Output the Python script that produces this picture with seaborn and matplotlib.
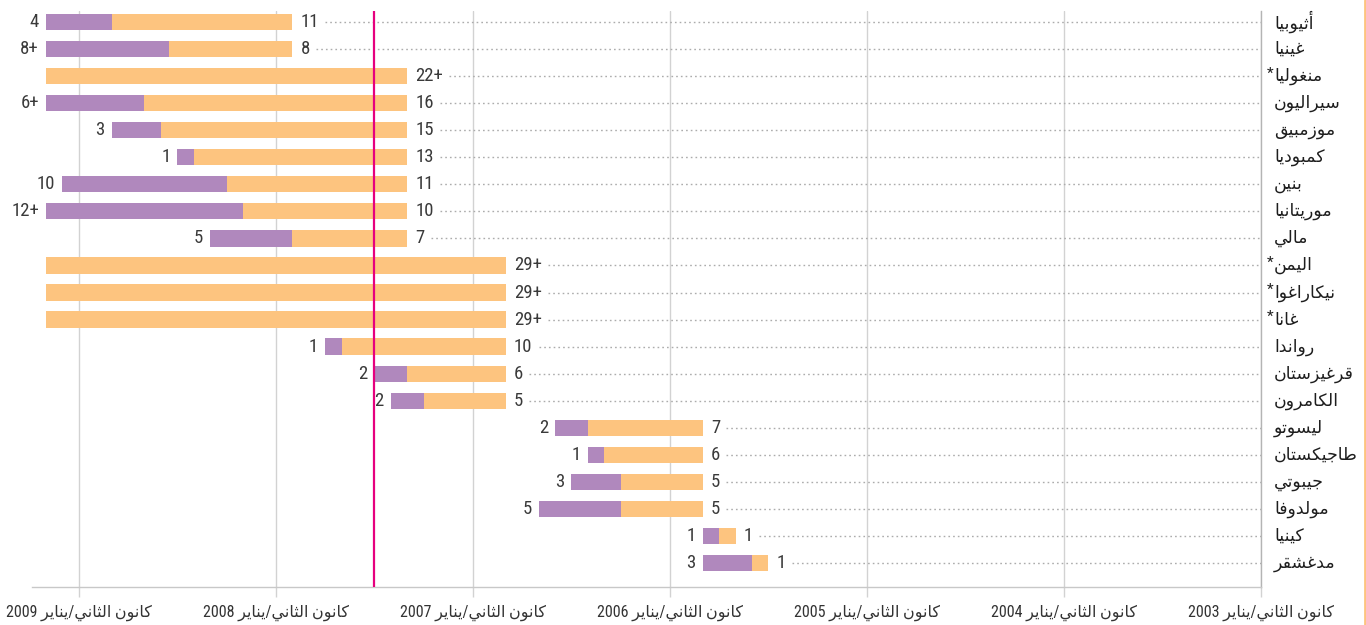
import re
import numpy as np
import matplotlib
matplotlib.use("Agg")
import matplotlib.pyplot as plt
import seaborn as sns
from matplotlib import font_manager as fm
from matplotlib.lines import Line2D

# ---------------- data ----------------
countries = ["أثيوبيا", "غينيا", "منغوليا*", "سيراليون", "موزمبيق", "كمبوديا", "بنين",
             "موريتانيا", "مالي", "اليمن*", "نيكاراغوا*", "غانا*", "رواندا", "قرغيزستان",
             "الكامرون", "ليسوتو", "طاجيكستان", "جيبوتي", "مولدوفا", "كينيا", "مدغشقر"]
start = ["2007-12", "2007-12", "2007-05", "2007-05", "2007-05", "2007-05", "2007-05",
         "2007-05", "2007-05", "2006-11", "2006-11", "2006-11", "2006-11", "2006-11",
         "2006-11", "2005-11", "2005-11", "2005-11", "2005-11", "2005-09", "2005-07"]
orange_months = [11, 7.5, 22, 16, 15, 13, 11, 10, 7, 28, 28, 28, 10, 6, 5, 7, 6, 5, 5, 1, 1]
purple_months = [4, 7.5, 0, 6, 3, 1, 10, 12, 5, 0, 0, 0, 1, 2, 2, 2, 1, 3, 5, 1, 3]
orange_labels = ["11", "8", "22+", "16", "15", "13", "11", "10", "7", "29+", "29+", "29+",
                 "10", "6", "5", "7", "6", "5", "5", "1", "1"]
purple_labels = ["4", "8+", "", "6+", "3", "1", "10", "12+", "5", "", "", "",
                 "1", "2", "2", "2", "1", "3", "5", "1", "3"]
years = [2009, 2008, 2007, 2006, 2005, 2004, 2003]
tick_word = "كانون الثاني/يناير"
marker_date = "2007-07"

ORANGE = "#FDC47F"
PURPLE = "#B088BD"
MAGENTA = "#E6007E"

# ------------- Arabic shaping (visual order for matplotlib) -------------
_DUAL = {'ئ': 0xFE89, 'ب': 0xFE8F, 'ت': 0xFE95, 'ث': 0xFE99, 'ج': 0xFE9D, 'ح': 0xFEA1,
         'خ': 0xFEA5, 'س': 0xFEB1, 'ش': 0xFEB5, 'ص': 0xFEB9, 'ض': 0xFEBD, 'ط': 0xFEC1,
         'ظ': 0xFEC5, 'ع': 0xFEC9, 'غ': 0xFECD, 'ف': 0xFED1, 'ق': 0xFED5, 'ك': 0xFED9,
         'ل': 0xFEDD, 'م': 0xFEE1, 'ن': 0xFEE5, 'ه': 0xFEE9, 'ي': 0xFEF1}
_RIGHT = {'آ': 0xFE81, 'أ': 0xFE83, 'ؤ': 0xFE85, 'إ': 0xFE87, 'ا': 0xFE8D, 'ة': 0xFE93,
          'د': 0xFEA9, 'ذ': 0xFEAB, 'ر': 0xFEAD, 'ز': 0xFEAF, 'و': 0xFEED, 'ى': 0xFEEF}
_LAMALEF = {'آ': 0xFEF5, 'أ': 0xFEF7, 'إ': 0xFEF9, 'ا': 0xFEFB}


def _joins(c):
    return c in _DUAL or c in _RIGHT


def shape(s):
    out = []
    i, n = 0, len(s)
    while i < n:
        c = s[i]
        cp = i > 0 and s[i - 1] in _DUAL and _joins(c)
        if c == 'ل' and i + 1 < n and s[i + 1] in _LAMALEF:
            out.append(chr(_LAMALEF[s[i + 1]] + (1 if cp else 0)))
            i += 2
            continue
        if c in _DUAL:
            cn = i + 1 < n and _joins(s[i + 1])
            off = {(False, False): 0, (True, False): 1, (False, True): 2, (True, True): 3}[(cp, cn)]
            out.append(chr(_DUAL[c] + off))
        elif c in _RIGHT:
            out.append(chr(_RIGHT[c] + (1 if cp else 0)))
        else:
            out.append(c)
        i += 1
    vis = "".join(reversed(out))
    return re.sub(r"[0-9]+", lambda m: m.group(0)[::-1], vis)


def months(s):
    y, m = map(int, s.split("-"))
    return (y - 2003) * 12 + (m - 1)


# ---------------- style ----------------
sns.set_theme(style="white")
avail = {f.name for f in fm.fontManager.ttflist}
NUMFONT = next((f for f in ["Roboto Condensed", "Liberation Sans Narrow", "DejaVu Sans"] if f in avail),
               "DejaVu Sans")
plt.rcParams["font.family"] = [NUMFONT, "DejaVu Sans"]

fig = plt.figure(figsize=(13.66, 6.25), dpi=100)
ax = fig.add_axes([32 / 1366, 1 - 587 / 625, (1261 - 32) / 1366, (587 - 11) / 625])

y = np.arange(len(countries))
s = np.array([months(d) for d in start], dtype=float)
o = np.array(orange_months, dtype=float)
p = np.array(purple_months, dtype=float)

ax.barh(y, o, left=s, height=0.6, color=ORANGE, zorder=3, linewidth=0)
ax.barh(y, p, left=s + o, height=0.6, color=PURPLE, zorder=3, linewidth=0)
ax.axvline(months(marker_date), color=MAGENTA, lw=1.6, zorder=4)

ax.set_xlim(74.85, 0)
ax.set_ylim(20.89, -0.41)
ax.set_yticks([])
ticks = [(yr - 2003) * 12 for yr in years]
ax.set_xticks(ticks)
ax.set_xticklabels([shape(f"{tick_word} {yr}") for yr in years], fontsize=11.5,
                   color="#333333", family=[NUMFONT, "DejaVu Sans"])
ax.grid(axis="x", color="#d2d2d2", lw=1, zorder=0)
ax.grid(axis="y", visible=False)
ax.tick_params(axis="x", length=7.5, width=1, color="#d2d2d2", direction="out", pad=5, bottom=True)
for side in ["left", "top"]:
    ax.spines[side].set_visible(False)
ax.spines["bottom"].set_color("#c8c8c8")
ax.spines["right"].set_color("#b4b4b4")
ax.spines["bottom"].set_linewidth(1)
ax.spines["right"].set_linewidth(1)

# value labels
olabels = []
for i in range(len(countries)):
    t = ax.annotate(orange_labels[i], xy=(s[i], i), xytext=(6, 0), textcoords="offset points",
                    ha="left", va="center", fontsize=13.5, color="#3a3a3a", family=[NUMFONT])
    olabels.append(t)
    if purple_labels[i]:
        ax.annotate(purple_labels[i], xy=(s[i] + o[i] + p[i], i), xytext=(-5, 0),
                    textcoords="offset points", ha="right", va="center", fontsize=13.5,
                    color="#3a3a3a", family=[NUMFONT])

# country names
for i, name in enumerate(countries):
    star = name.endswith("*")
    base = name.rstrip("*")
    ax.annotate(shape(base), xy=(1, i), xycoords=("axes fraction", "data"), xytext=(9.5, 0),
                textcoords="offset points", ha="left", va="center", fontsize=12.5,
                color="#1e1e1e", family=["DejaVu Sans"], annotation_clip=False)
    if star:
        ax.annotate("*", xy=(1, i), xycoords=("axes fraction", "data"), xytext=(9, 2),
                    textcoords="offset points", ha="right", va="center", fontsize=11,
                    color="#222222", annotation_clip=False)

# dotted leader lines from each right-hand label to the right axis
fig.canvas.draw()
r = fig.canvas.get_renderer()
inv = ax.transData.inverted()
for i, t in enumerate(olabels):
    bb = t.get_window_extent(r)
    x0 = inv.transform((bb.x1 + 6, 0))[0]
    ax.hlines(i, x0, 0, colors="#acacac", linestyles=(0, (1.2, 2.2)), lw=1, zorder=2)

fig.add_artist(Line2D([0.9990, 0.9990], [0, 1], transform=fig.transFigure, color=ORANGE, lw=2))

fig.savefig("out.png", dpi=100, facecolor="white")
